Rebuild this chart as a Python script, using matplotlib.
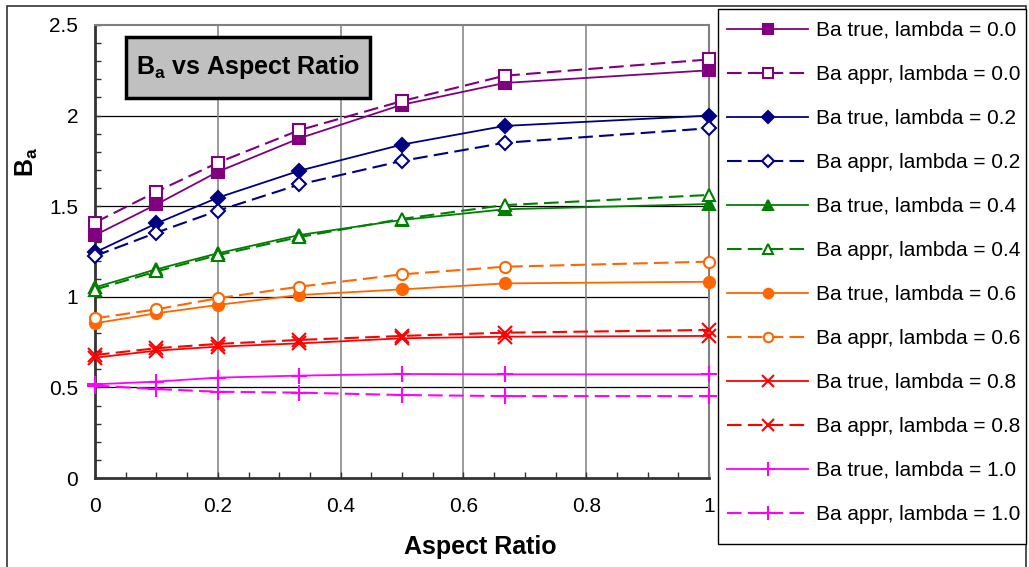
# Ba vs aspect ratio, true vs approximated, for several lambda values

import matplotlib.pyplot as plt
from matplotlib.patches import Rectangle
from matplotlib.ticker import MultipleLocator

plt.rcParams["font.family"] = ["Liberation Sans", "DejaVu Sans"]

aspect_ratio = [0, 0.1, 0.2, 0.333, 0.5, 0.667, 1.0]

lambdas = ["0.0", "0.2", "0.4", "0.6", "0.8", "1.0"]

ba_true_00 = [1.34, 1.51, 1.69, 1.875, 2.06, 2.18, 2.25]
ba_appr_00 = [1.41, 1.58, 1.74, 1.92, 2.08, 2.22, 2.31]
ba_true_02 = [1.245, 1.405, 1.547, 1.696, 1.84, 1.943, 2.0]
ba_appr_02 = [1.225, 1.354, 1.475, 1.62, 1.75, 1.85, 1.93]
ba_true_04 = [1.052, 1.152, 1.24, 1.341, 1.424, 1.483, 1.512]
ba_appr_04 = [1.04, 1.14, 1.23, 1.33, 1.43, 1.506, 1.562]
ba_true_06 = [0.854, 0.909, 0.955, 1.01, 1.041, 1.074, 1.083]
ba_appr_06 = [0.881, 0.931, 0.992, 1.056, 1.124, 1.166, 1.194]
ba_true_08 = [0.664, 0.703, 0.725, 0.743, 0.771, 0.78, 0.784]
ba_appr_08 = [0.679, 0.716, 0.74, 0.762, 0.784, 0.802, 0.817]
ba_true_10 = [0.517, 0.532, 0.554, 0.565, 0.574, 0.572, 0.572]
ba_appr_10 = [0.51, 0.491, 0.476, 0.471, 0.458, 0.452, 0.452]

true_series = [ba_true_00, ba_true_02, ba_true_04, ba_true_06, ba_true_08, ba_true_10]
appr_series = [ba_appr_00, ba_appr_02, ba_appr_04, ba_appr_06, ba_appr_08, ba_appr_10]

colors = ["#800080", "#000080", "#008000", "#FF6600", "#FF0000", "#FF00FF"]
markers = ["s", "D", "^", "o", "x", "+"]
msizes = [8, 7.5, 8.5, 8, 10, 12]

W, H = 1029, 567
fig = plt.figure(figsize=(10.29, 5.67), dpi=100)
ax = fig.add_axes([95 / W, 89 / H, 614 / W, 453 / H])

# grid first so the series sit on top
for gy in [0.5, 1.0, 1.5, 2.0]:
    ax.axhline(gy, color="black", lw=0.9, zorder=1)
for gx in [0.2, 0.4, 0.6, 0.8]:
    ax.axvline(gx, color="#808080", lw=1.1, zorder=1)

for i in range(len(lambdas)):
    c = colors[i]
    m = markers[i]
    ax.plot(aspect_ratio, true_series[i], color=c, lw=1.3, marker=m,
            markersize=msizes[i], markerfacecolor=c, markeredgecolor=c,
            markeredgewidth=1.5, label="Ba true, lambda = " + lambdas[i],
            zorder=3, clip_on=False)
    ax.plot(aspect_ratio, appr_series[i], color=c, lw=1.5, dashes=(7, 3),
            marker=m, markersize=msizes[i], markerfacecolor="white" if m not in ["x", "+"] else c,
            markeredgecolor=c, markeredgewidth=1.5,
            label="Ba appr, lambda = " + lambdas[i], zorder=3, clip_on=False)

ax.set_xlim(0, 1)
ax.set_ylim(0, 2.5)
ax.xaxis.set_minor_locator(MultipleLocator(0.05))
ax.yaxis.set_minor_locator(MultipleLocator(0.1))
ax.set_xticks([0, 0.2, 0.4, 0.6, 0.8, 1.0])
ax.set_xticklabels(["0", "0.2", "0.4", "0.6", "0.8", "1"])
ax.set_yticks([0, 0.5, 1.0, 1.5, 2.0, 2.5])
ax.set_yticklabels(["0", "0.5", "1", "1.5", "2", "2.5"])
ax.tick_params(which="both", direction="in", length=4, width=1, color="#333333",
               labelsize=15)
ax.tick_params(axis="x", pad=14)
ax.tick_params(axis="y", pad=12)

for side in ["top", "right"]:
    ax.spines[side].set_color("#808080")
    ax.spines[side].set_linewidth(1.5)
for side in ["left", "bottom"]:
    ax.spines[side].set_color("#333333")
    ax.spines[side].set_linewidth(2)

# axis labels placed like the original
fig.text(480 / W, 1 - 547 / H, "Aspect Ratio", fontsize=18, fontweight="bold",
         ha="center", va="center")
fig.text(27 / W, 1 - 162 / H, "B$_\\mathregular{a}$", fontsize=18, fontweight="bold",
         rotation=90, ha="center", va="center")

# title box
fig.patches.append(Rectangle((126 / W, 1 - 98 / H), 244 / W, 61 / H,
                             transform=fig.transFigure, facecolor="#C0C0C0",
                             edgecolor="black", lw=2.5, zorder=5))
fig.text(248 / W, 1 - 67 / H, "B$_\\mathregular{a}$ vs Aspect Ratio", fontsize=18,
         fontweight="bold", ha="center", va="center", zorder=6)

# chart area border
fig.patches.append(Rectangle((7 / W, -0.05), 1019 / W, 1.05 - 6 / H,
                             transform=fig.transFigure, facecolor="none",
                             edgecolor="#333333", lw=1.2, zorder=-2))

# legend frame drawn separately (behind the axes) so it matches the original box
fig.patches.append(Rectangle((718 / W, 1 - 544 / H), 308 / W, 535 / H,
                             transform=fig.transFigure, facecolor="white",
                             edgecolor="black", lw=1.0, zorder=-1))

leg = ax.legend(loc="upper left", bbox_to_anchor=(727 / W, 1 - 21 / H),
                bbox_transform=fig.transFigure, fontsize=15, frameon=False,
                handlelength=3.9, handletextpad=0.35, labelspacing=1.2,
                borderpad=0, borderaxespad=0, markerscale=0.85)

plt.savefig("out.png", dpi=100)
